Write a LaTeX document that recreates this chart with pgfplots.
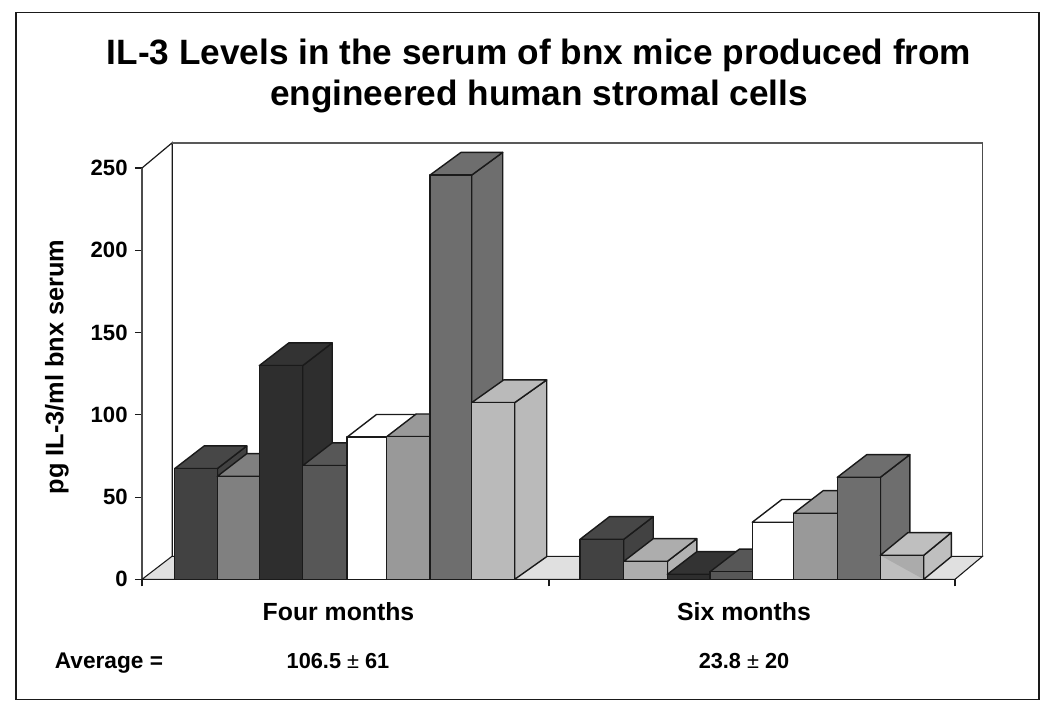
\documentclass[border=0pt]{standalone}
\usepackage{pgfplots}
\pgfplotsset{compat=1.18}
\usepackage{fontspec}
\setmainfont{Liberation Sans}
\definecolor{ln}{HTML}{1A1A1A}
\newcommand{\dx}{29.5}
\newcommand{\dz}{13.8}
% \threedbar{left}{right}{value}{front}{side}{top}
\newcommand{\threedbar}[6]{%
  \pgfmathsetmacro{\xa}{#1+\dx}\pgfmathsetmacro{\xb}{#2+\dx}%
  \pgfmathsetmacro{\za}{#3+\dz}%
  \addplot[draw=ln,line width=1.05pt,line join=round,fill=#5] coordinates {(#2,0) (\xb,\dz) (\xb,\za) (#2,#3)} --cycle;
  \addplot[draw=ln,line width=1.05pt,line join=round,fill=#6] coordinates {(#1,#3) (\xa,\za) (\xb,\za) (#2,#3)} --cycle;
  \addplot[draw=ln,line width=1.05pt,line join=round,fill=#4] coordinates {(#1,0) (#1,#3) (#2,#3) (#2,0)} --cycle;
}
\begin{document}
\begin{tikzpicture}
\path[use as bounding box] (0pt,0pt) rectangle (787.5pt,-534pt);
\begin{scope}[x=0.75pt,y=-0.75pt]
\draw[color=ln,line width=1.3pt] (15.7,12.5) rectangle (1039,699.5);
\node[font=\bfseries\fontsize{26.4pt}{30.75pt}\selectfont,align=center] at (539,76) {IL-3 Levels in the serum of bnx mice produced from\\engineered human stromal cells};
\end{scope}
\begin{axis}[
  at={(106.5pt,-434.5pt)},anchor=south west,
  scale only axis,width=609.75pt,height=308.5pt,
  xmin=142,xmax=955,ymin=0,ymax=250,
  clip=false,axis x line*=bottom,axis y line*=left,
  axis line style={draw=black!70,line width=1.1pt,-},
  xtick={142,549,955},xticklabels={},
  ytick={0,50,100,150,200,250},
  major tick length=5.25pt,tick align=outside,
  tick style={draw=ln,line width=0.8pt},
  /pgf/number format/assume math mode=true,
  yticklabel style={font=\bfseries\fontsize{16.6pt}{20pt}\selectfont,text=black,xshift=-2pt},
  ylabel={pg IL-3/ml bnx serum},
  every axis y label/.style={at={(axis cs:57,129)},rotate=90,anchor=center,font=\bfseries\fontsize{19pt}{20pt}\selectfont},
]
% floor and walls
\addplot[draw=ln,line width=0.8pt,fill=black!12] coordinates {(142,0) (172,14) (982.5,14) (955,0)} --cycle;
\addplot[draw=ln,line width=0.9pt] coordinates {(142,250) (172.3,265.4) (172.3,14)};
\addplot[draw=black!65,line width=1.3pt] coordinates {(172.3,265.4) (982.5,265.4)};
\addplot[draw=black!70,line width=1pt] coordinates {(982.5,265.4) (982.5,14)};
% Four months
\threedbar{174.7}{217.3}{67.3}{black!74}{black!74}{black!72}
\threedbar{217.3}{259.3}{62.6}{black!50}{black!50}{black!50}
\threedbar{259.3}{302.7}{129.9}{black!82}{black!82}{black!80}
\threedbar{302.7}{347}{69.1}{black!66}{black!66}{black!66}
\threedbar{347}{386.7}{86.4}{white}{white}{white}
\threedbar{386.7}{430}{86.7}{black!40}{black!40}{black!40}
\renewcommand{\dx}{31}
\threedbar{430}{471.7}{245.7}{black!57}{black!57}{black!57}
\renewcommand{\dx}{32}
\threedbar{471.7}{514.7}{107.4}{black!27}{black!27}{black!27}
\renewcommand{\dx}{29.5}
% Six months
\threedbar{580}{623.7}{24.3}{black!74}{black!74}{black!72}
\threedbar{623.7}{667.3}{10.9}{black!32}{black!30}{black!32}
\threedbar{667.3}{710}{3}{black!82}{black!82}{black!80}
\threedbar{710}{752.3}{4.6}{black!66}{black!66}{black!66}
\threedbar{752.3}{793.7}{34.7}{white}{white}{white}
\threedbar{793.7}{837.3}{40.1}{black!40}{black!40}{black!40}
\threedbar{837.3}{880.3}{62}{black!57}{black!57}{black!57}
\renewcommand{\dx}{27.6}
\threedbar{880.3}{923.7}{14.6}{black!25}{black!25}{black!25}
\addplot[draw=none,fill=black!33] coordinates {(880.3,14.6) (923.7,14.6) (923.7,0)} --cycle;
\addplot[draw=ln,line width=1.05pt,line join=round] coordinates {(880.3,0) (880.3,14.6) (923.7,14.6) (923.7,0)} --cycle;
\end{axis}
\begin{scope}[x=0.75pt,y=-0.75pt]
\node[anchor=base,font=\bfseries\fontsize{18.6pt}{20pt}\selectfont] at (338.5,621) {Four months};
\node[anchor=base,font=\bfseries\fontsize{18.6pt}{20pt}\selectfont] at (744,621) {Six months};
\node[anchor=base,font=\bfseries\fontsize{17pt}{20pt}\selectfont] at (109,668.5) {Average =};
\node[anchor=base,font=\bfseries\fontsize{16.3pt}{20pt}\selectfont] at (338,668.5) {106.5 {\mdseries ±} 61};
\node[anchor=base,font=\bfseries\fontsize{16.3pt}{20pt}\selectfont] at (744,668.5) {23.8 {\mdseries ±} 20};
\end{scope}
\end{tikzpicture}
\end{document}
